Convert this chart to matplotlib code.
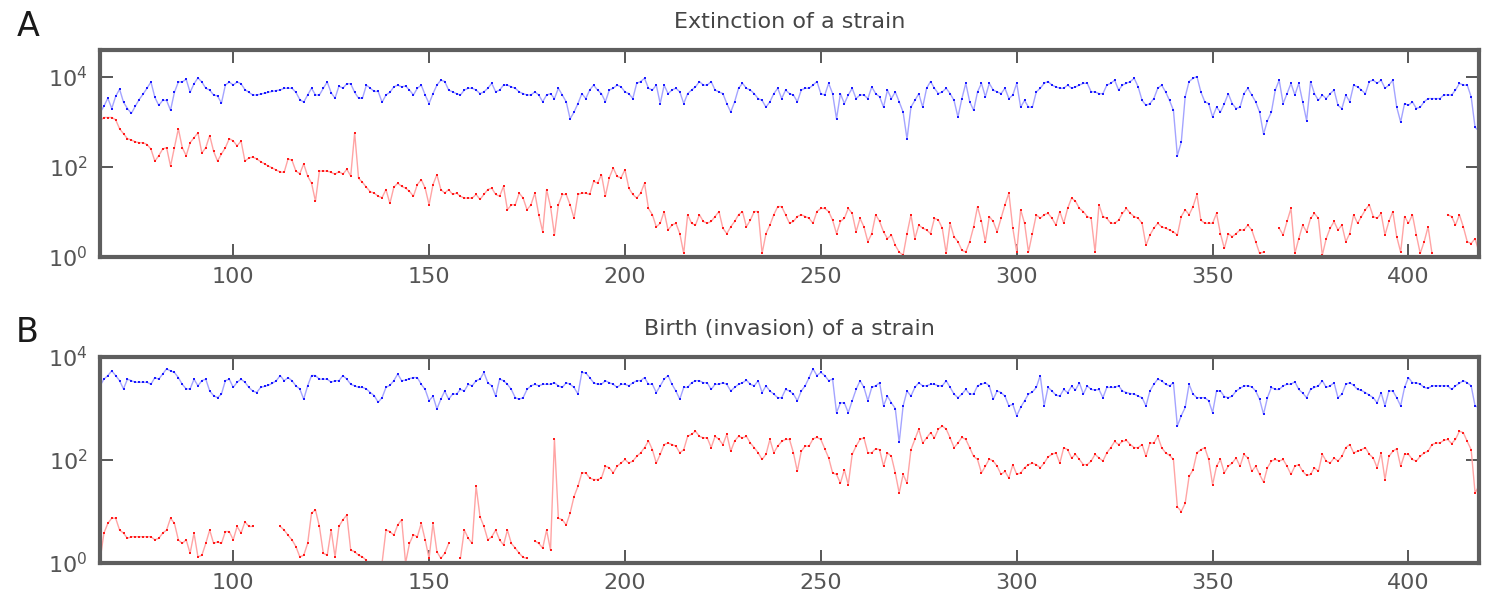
import numpy as np
import matplotlib
matplotlib.use("Agg")
import matplotlib.pyplot as plt
from matplotlib.ticker import NullLocator

nan = float("nan")

# generation index shared by every series
generation = np.arange(66, 419)

# Panel A: extinction of a strain -- log10 of the totals (blue) and of the strain (red)
ext_total_log10 = [
    3.21, 3.35, 3.53, 3.30, 3.57, 3.73, 3.44, 3.30, 3.19, 3.35,
    3.50, 3.62, 3.75, 3.89, 3.55, 3.37, 3.48, 3.48, 3.26, 3.66,
    3.89, 3.89, 3.95, 3.66, 3.85, 3.98, 3.89, 3.75, 3.71, 3.60,
    3.58, 3.42, 3.82, 3.89, 3.82, 3.89, 3.85, 3.72, 3.66, 3.60,
    3.60, 3.62, 3.64, 3.66, 3.68, 3.70, 3.71, 3.75, 3.75, 3.75,
    3.66, 3.50, 3.44, 3.60, 3.75, 3.60, 3.60, 3.75, 3.89, 3.65,
    3.53, 3.80, 3.75, 3.85, 3.85, 3.66, 3.53, 3.53, 3.82, 3.75,
    3.68, 3.68, 3.44, 3.60, 3.66, 3.78, 3.82,
    3.78, 3.80, 3.71, 3.60, 3.75, 3.82, 3.60, 3.41, 3.63, 3.82,
    3.93, 3.90, 3.71, 3.67, 3.63, 3.60, 3.71, 3.75, 3.75, 3.71,
    3.63, 3.67, 3.75, 3.86, 3.67, 3.71, 3.82, 3.82, 3.78, 3.75,
    3.67, 3.63, 3.60, 3.60, 3.67, 3.60, 3.45, 3.60, 3.63, 3.52,
    3.75, 3.60, 3.45, 3.07, 3.22, 3.41, 3.63, 3.52, 3.71, 3.82,
    3.71, 3.63, 3.45, 3.71, 3.75, 3.82, 3.78, 3.67, 3.63, 3.52,
    3.86, 3.90, 3.97, 3.75, 3.71, 3.82, 3.41, 3.82, 3.63, 3.71,
    3.75, 3.67, 3.41, 3.63, 3.71, 3.78, 3.90, 3.82, 3.82, 3.90,
    3.71, 3.67, 3.63, 3.41, 3.22, 3.45, 3.75, 3.86, 3.75, 3.71,
    3.63, 3.52, 3.48, 3.33, 3.45, 3.63, 3.75,
    3.52, 3.71, 3.63, 3.60, 3.45, 3.71, 3.75, 3.75, 3.82, 3.90,
    3.63, 3.60, 3.86, 3.63, 3.07, 3.63, 3.41, 3.60, 3.75, 3.52,
    3.60, 3.60, 3.52, 3.78, 3.63, 3.56, 3.33, 3.71, 3.52, 3.67,
    3.45, 3.22, 2.62, 3.33, 3.48, 3.63, 3.33, 3.75, 3.90, 3.75,
    3.63, 3.67, 3.75, 3.63, 3.48, 3.11, 3.52, 3.86, 3.45, 3.26,
    3.67, 3.86, 3.56, 3.86, 3.71, 3.67, 3.63, 3.75, 3.52, 3.60,
    3.86, 3.33, 3.48, 3.33, 3.33, 3.67, 3.75, 3.86, 3.90, 3.82,
    3.78, 3.75, 3.75, 3.82, 3.75, 3.78, 3.82, 3.86, 3.86, 3.67,
    3.67, 3.63, 3.63, 3.82, 3.86, 3.93, 3.71, 3.82, 3.86, 3.90,
    3.97, 3.78, 3.48, 3.37, 3.41, 3.52, 3.75,
    3.82, 3.67, 3.48, 3.26, 2.25, 2.55, 3.56, 3.90, 3.97, 4.01,
    3.67, 3.45, 3.41, 3.11, 3.33, 3.22, 3.41, 3.63, 3.41, 3.30,
    3.33, 3.63, 3.75, 3.60, 3.45, 3.22, 2.73, 3.03, 3.22, 3.71,
    3.93, 3.41, 3.63, 3.86, 3.60, 3.86, 3.45, 3.03, 3.90, 3.63,
    3.48, 3.60, 3.52, 3.63, 3.71, 3.37, 3.30, 3.60, 3.45, 3.82,
    3.78, 3.71, 3.63, 3.90, 3.93, 3.86, 3.93, 3.75, 3.82, 3.93,
    3.33, 3.00, 3.41, 3.37, 3.45, 3.30, 3.33, 3.45, 3.52, 3.52,
    3.52, 3.52, 3.60, 3.60, 3.60, 3.71, 3.86, 3.82, 3.82, 3.56,
    2.88, 2.80,
]

ext_strain_log10 = [
    3.03, 3.10, 3.10, 3.10, 3.05, 2.85, 2.74, 2.63, 2.60, 2.56,
    2.54, 2.54, 2.50, 2.40, 2.13, 2.25, 2.40, 2.43, 2.02, 2.43,
    2.85, 2.43, 2.25, 2.54, 2.65, 2.76, 2.31, 2.43, 2.70, 2.35,
    2.13, 2.29, 2.43, 2.63, 2.58, 2.47, 2.58, 2.13, 2.20, 2.22,
    2.18, 2.12, 2.07, 2.02, 1.98, 1.93, 1.89, 1.88, 2.18, 2.15,
    1.91, 1.85, 2.07, 1.80, 1.64, 1.24, 1.91, 1.91, 1.91, 1.88,
    1.84, 1.90, 1.84, 1.95, 1.80, 2.76, 1.75, 1.66, 1.55, 1.45,
    1.42, 1.35, 1.32, 1.50, 1.19, 1.55, 1.64,
    1.57, 1.53, 1.46, 1.35, 1.61, 1.72, 1.53, 1.16, 1.61, 1.83,
    1.50, 1.42, 1.50, 1.39, 1.42, 1.35, 1.31, 1.31, 1.31, 1.39,
    1.28, 1.39, 1.50, 1.53, 1.39, 1.35, 1.57, 1.05, 1.16, 1.16,
    1.42, 1.31, 1.05, 1.16, 1.42, 0.94, 0.56, 1.50, 1.12, 0.49,
    1.16, 1.39, 1.39, 1.16, 0.86, 1.39, 1.42, 1.42, 1.39, 1.68,
    1.64, 1.83, 1.35, 1.76, 1.98, 1.79, 1.76, 1.94, 1.53, 1.39,
    1.31, 1.42, 1.64, 1.08, 0.94, 0.67, 0.75, 1.01, 0.60, 0.71,
    0.75, 0.52, 0.08, 0.94, 0.75, 0.71, 0.94, 0.79, 0.75, 0.79,
    0.90, 1.01, 0.64, 0.52, 0.67, 0.79, 0.94, 1.01, 0.67, 0.82,
    1.01, 1.01, 0.08, 0.52, 0.71, 0.94, 1.12,
    1.12, 0.94, 0.75, 0.79, 0.90, 0.94, 0.90, 0.86, 0.75, 1.01,
    1.08, 1.08, 1.01, 0.82, 0.52, 0.79, 0.86, 1.08, 0.97, 0.56,
    0.86, 0.67, 0.34, 0.52, 0.94, 0.79, 0.56, 0.41, 0.49, 0.26,
    0.11, 0.04, 0.52, 0.94, 0.41, 0.71, 0.64, 0.60, 0.52, 0.86,
    0.82, 0.64, 0.08, 0.75, 0.45, 0.34, 0.15, 0.11, 0.34, 0.67,
    1.12, 0.79, 0.34, 0.90, 0.79, 0.56, 0.86, 1.16, 1.42, 0.64,
    0.11, 1.05, 0.75, 0.11, 0.52, 0.94, 0.86, 0.94, 0.97, 0.86,
    0.71, 1.01, 0.75, 1.08, 1.31, 1.24, 1.08, 1.01, 0.90, 0.86,
    0.11, 1.16, 0.90, 0.86, 0.75, 0.75, 0.82, 0.97, 1.08, 0.97,
    0.90, 0.86, 0.75, 0.26, 0.49, 0.64, 0.75,
    0.67, 0.64, 0.60, 0.56, 0.49, 0.90, 1.05, 0.94, 1.12, 1.39,
    0.82, 0.75, 0.75, 0.75, 0.97, 0.52, 0.19, 0.52, 0.45, 0.52,
    0.60, 0.60, 0.71, 0.60, 0.34, 0.08, 0.11, nan, nan, nan,
    0.64, 0.49, 0.79, 1.08, 0.08, 0.41, 0.71, 0.56, 0.86, 0.97,
    0.86, 0.04, 0.41, 0.64, 0.79, 0.60, 0.71, 0.34, 0.52, 0.94,
    0.75, 0.90, 1.05, 1.16, 0.90, 0.86, 0.97, 0.49, 0.79, 1.01,
    0.45, 0.11, 0.90, 0.75, 0.94, 0.49, 0.08, 0.34, 0.67, 0.08,
    nan, nan, nan, 0.94, 0.90, 0.71, 0.94, 0.67, 0.34, 0.30,
    0.41, 0.11,
]

# Panel B: birth (invasion) of a strain
inv_total_log10 = [
    3.44, 3.57, 3.64, 3.73, 3.64, 3.54, 3.38, 3.57, 3.54, 3.51,
    3.51, 3.51, 3.51, 3.47, 3.60, 3.57, 3.67, 3.77, 3.73, 3.70,
    3.60, 3.47, 3.38, 3.38, 3.57, 3.44, 3.54, 3.57, 3.34, 3.25,
    3.21, 3.28, 3.54, 3.57, 3.41, 3.51, 3.57, 3.51, 3.41, 3.34,
    3.31, 3.41, 3.43, 3.45, 3.49, 3.54, 3.64, 3.54, 3.60, 3.54,
    3.44, 3.38, 3.18, 3.44, 3.64, 3.64, 3.57, 3.57, 3.57, 3.51,
    3.54, 3.54, 3.64, 3.57, 3.47, 3.44, 3.41, 3.41, 3.38, 3.31,
    3.25, 3.12, 3.21, 3.41, 3.45, 3.54, 3.67,
    3.54, 3.55, 3.58, 3.60, 3.60, 3.47, 3.37, 3.15, 3.24, 2.99,
    3.18, 3.34, 3.18, 3.28, 3.28, 3.37, 3.34, 3.47, 3.44, 3.54,
    3.57, 3.70, 3.50, 3.44, 3.24, 3.57, 3.54, 3.47, 3.37, 3.21,
    3.18, 3.21, 3.37, 3.44, 3.47, 3.44, 3.47, 3.47, 3.47, 3.50,
    3.44, 3.41, 3.50, 3.47, 3.41, 3.28, 3.70, 3.69, 3.60, 3.50,
    3.47, 3.47, 3.54, 3.50, 3.47, 3.41, 3.47, 3.47, 3.44, 3.50,
    3.54, 3.54, 3.60, 3.47, 3.47, 3.31, 3.44, 3.57, 3.64, 3.47,
    3.34, 3.18, 3.41, 3.41, 3.50, 3.54, 3.54, 3.50, 3.50, 3.37,
    3.47, 3.47, 3.50, 3.47, 3.34, 3.41, 3.47, 3.50, 3.55, 3.47,
    3.44, 3.54, 3.31, 3.44, 3.34, 3.28, 3.21,
    3.21, 3.37, 3.34, 3.28, 3.15, 3.34, 3.44, 3.60, 3.77, 3.64,
    3.70, 3.64, 3.54, 3.57, 2.92, 3.11, 3.11, 2.92, 3.15, 3.37,
    3.54, 3.41, 3.15, 3.41, 3.44, 3.50, 3.05, 3.24, 3.11, 3.00,
    2.34, 3.05, 3.34, 3.24, 3.41, 3.50, 3.44, 3.44, 3.47, 3.47,
    3.44, 3.44, 3.54, 3.41, 3.28, 3.21, 3.28, 3.37, 3.28, 3.28,
    3.44, 3.47, 3.50, 3.44, 3.18, 3.34, 3.31, 3.24, 3.05, 3.08,
    2.86, 3.02, 3.15, 3.28, 3.32, 3.41, 3.64, 3.05, 3.41, 3.34,
    3.26, 3.24, 3.37, 3.31, 3.43, 3.36, 3.50, 3.28, 3.44, 3.37,
    3.36, 3.37, 3.21, 3.41, 3.41, 3.41, 3.44, 3.34, 3.31, 3.29,
    3.28, 3.24, 3.21, 3.05, 3.34, 3.47, 3.57,
    3.54, 3.47, 3.44, 3.50, 2.66, 2.86, 3.02, 3.47, 3.28, 3.21,
    3.21, 3.21, 3.15, 2.92, 3.34, 3.34, 3.23, 3.21, 3.24, 3.34,
    3.39, 3.44, 3.44, 3.42, 3.34, 3.18, 2.89, 3.21, 3.41, 3.37,
    3.37, 3.44, 3.47, 3.47, 3.52, 3.37, 3.30, 3.21, 3.37, 3.41,
    3.44, 3.54, 3.41, 3.44, 3.50, 3.21, 3.28, 3.47, 3.50, 3.45,
    3.37, 3.35, 3.31, 3.26, 3.21, 3.11, 3.31, 3.05, 3.34, 3.34,
    3.21, 3.05, 3.41, 3.60, 3.50, 3.50, 3.47, 3.41, 3.39, 3.44,
    3.44, 3.44, 3.44, 3.44, 3.37, 3.44, 3.49, 3.54, 3.50, 3.44,
    3.05, 3.02,
]

inv_strain_log10 = [
    0.05, 0.58, 0.77, 0.87, 0.87, 0.64, 0.58, 0.48, 0.51, 0.51,
    0.51, 0.51, 0.51, 0.51, 0.45, 0.48, 0.58, 0.64, 0.87, 0.77,
    0.45, 0.38, 0.45, 0.19, 0.58, 0.12, 0.15, 0.38, 0.64, 0.38,
    0.41, 0.38, 0.61, 0.61, 0.45, 0.71, 0.58, 0.80, 0.71, 0.71,
    nan, nan, nan, nan, nan, nan, 0.71, 0.64, 0.54, 0.45,
    0.32, 0.12, 0.15, 0.38, 0.97, 1.03, 0.71, 0.19, 0.15, 0.64,
    0.12, 0.71, 0.84, 0.93, 0.25, 0.22, 0.15, 0.12, 0.05, nan,
    nan, nan, 0.00, 0.64, 0.61, 0.54, 0.74,
    0.84, 0.00, 0.38, 0.55, 0.51, 0.77, 0.45, 0.09, 0.77, 0.22,
    0.09, 0.19, 0.38, nan, nan, 0.09, 0.64, 0.48, 0.38, 1.49,
    0.90, 0.71, 0.45, 0.51, 0.64, 0.45, 0.35, 0.64, 0.38, 0.29,
    0.19, 0.11, 0.09, nan, 0.43, 0.38, 0.29, 0.64, 0.25, 2.40,
    0.87, 0.84, 0.74, 0.97, 1.29, 1.49, 1.75, 1.75, 1.65, 1.62,
    1.62, 1.65, 1.88, 1.85, 1.75, 1.88, 1.94, 2.01, 1.94, 1.98,
    2.07, 2.14, 2.24, 2.37, 2.20, 1.94, 2.11, 2.30, 2.33, 2.30,
    2.27, 2.14, 2.20, 2.46, 2.50, 2.56, 2.46, 2.43, 2.43, 2.24,
    2.46, 2.40, 2.30, 2.50, 2.17, 2.37, 2.46, 2.43, 2.46, 2.33,
    2.24, 2.14, 2.01, 2.11, 2.40, 2.14, 2.27,
    2.36, 2.40, 2.40, 2.14, 1.78, 2.17, 2.27, 2.27, 2.41, 2.44,
    2.40, 2.22, 2.04, 1.75, 1.72, 1.55, 1.81, 1.52, 2.11, 2.27,
    2.40, 2.43, 2.14, 2.14, 2.22, 2.20, 1.88, 2.14, 2.07, 1.75,
    1.36, 1.72, 1.55, 2.20, 2.40, 2.60, 2.33, 2.43, 2.53, 2.43,
    2.60, 2.66, 2.60, 2.43, 2.24, 2.33, 2.44, 2.40, 2.24, 2.07,
    2.01, 1.75, 1.88, 2.02, 1.98, 1.88, 1.72, 1.78, 1.65, 1.91,
    1.72, 1.75, 1.85, 1.91, 1.94, 1.91, 1.85, 1.94, 2.06, 2.11,
    2.14, 1.94, 2.24, 2.20, 2.04, 2.11, 2.01, 1.91, 1.91, 1.98,
    2.11, 2.04, 1.98, 2.14, 2.24, 2.36, 2.30, 2.36, 2.38, 2.30,
    2.24, 2.24, 2.30, 2.07, 2.33, 2.33, 2.46,
    2.24, 2.14, 2.09, 2.01, 1.09, 1.00, 1.16, 1.68, 1.81, 2.14,
    2.20, 2.24, 2.01, 1.52, 1.88, 2.01, 1.75, 1.88, 1.94, 2.04,
    1.88, 2.11, 2.04, 1.78, 1.88, 1.72, 1.57, 1.85, 1.98, 2.01,
    1.98, 2.01, 1.88, 1.72, 1.88, 1.91, 1.78, 1.70, 1.72, 1.85,
    1.78, 2.11, 1.98, 1.94, 2.04, 1.98, 2.07, 2.24, 2.30, 2.14,
    2.17, 2.20, 2.24, 2.11, 2.04, 1.85, 2.14, 1.62, 2.07, 2.17,
    2.22, 1.88, 2.11, 2.11, 2.01, 1.98, 2.07, 2.14, 2.17, 2.30,
    2.33, 2.33, 2.38, 2.40, 2.32, 2.40, 2.56, 2.53, 2.36, 2.20,
    1.36, 1.50,
]

x_ticks = [100, 150, 200, 250, 300, 350, 400]
y_ticks = [1e0, 1e2, 1e4]
titles = ["Extinction of a strain", "Birth (invasion) of a strain"]
panel_letters = ["A", "B"]

for name, s in [("ext_total", ext_total_log10), ("ext_strain", ext_strain_log10),
                ("inv_total", inv_total_log10), ("inv_strain", inv_strain_log10)]:
    assert len(s) == len(generation), (name, len(s))

W, H = 1485, 599
fig = plt.figure(figsize=(W / 100, H / 100), dpi=100)
fig.patch.set_facecolor("white")


def frac_box(left, top, right, bottom):
    return [left / W, 1 - bottom / H, (right - left) / W, (bottom - top) / H]


ax_a = fig.add_axes(frac_box(100, 50, 1479, 257))
ax_b = fig.add_axes(frac_box(100, 357, 1479, 563))

panels = [
    (ax_a, ext_total_log10, ext_strain_log10, (1, 10 ** 4.6)),
    (ax_b, inv_total_log10, inv_strain_log10, (1, 1e4)),
]

spine_col = "#5e5e5e"
for i, (ax, total, strain, ylim) in enumerate(panels):
    tot = 10 ** np.asarray(total, dtype=float)
    stn = 10 ** np.asarray(strain, dtype=float)
    ax.plot(generation, tot, "-", color="#a4a4ff", lw=1.0, zorder=2)
    ax.plot(generation, tot, "s", color="#1a1aff", ms=1.6, mew=0, zorder=2.1)
    ax.plot(generation, stn, "-", color="#ffa4a4", lw=1.0, zorder=2)
    ax.plot(generation, stn, "s", color="#ff1a1a", ms=1.6, mew=0, zorder=2.1)

    ax.set_yscale("log")
    ax.set_xlim(66, 418)
    ax.set_ylim(*ylim)
    ax.set_xticks(x_ticks)
    ax.set_yticks(y_ticks)
    ax.yaxis.set_minor_locator(NullLocator())
    ax.xaxis.set_minor_locator(NullLocator())
    ax.tick_params(direction="in", length=9.5, width=1.1, color="#2a2a2a",
                   top=True, right=True, labelsize=16, labelcolor="#555555")
    ax.tick_params(axis="x", pad=7)
    ax.tick_params(axis="y", pad=9)
    for sp in ax.spines.values():
        sp.set_linewidth(3)
        sp.set_color(spine_col)
        sp.set_zorder(3)
    ax.set_title(titles[i], fontsize=16, color="#454545", pad=16)

fig.text(28 / W, 1 - 27 / H, panel_letters[0], fontsize=24, color="#1a1a1a",
         ha="center", va="center")
fig.text(27 / W, 1 - 332 / H, panel_letters[1], fontsize=24, color="#1a1a1a",
         ha="center", va="center")

fig.savefig("out.png", dpi=100, facecolor="white")
